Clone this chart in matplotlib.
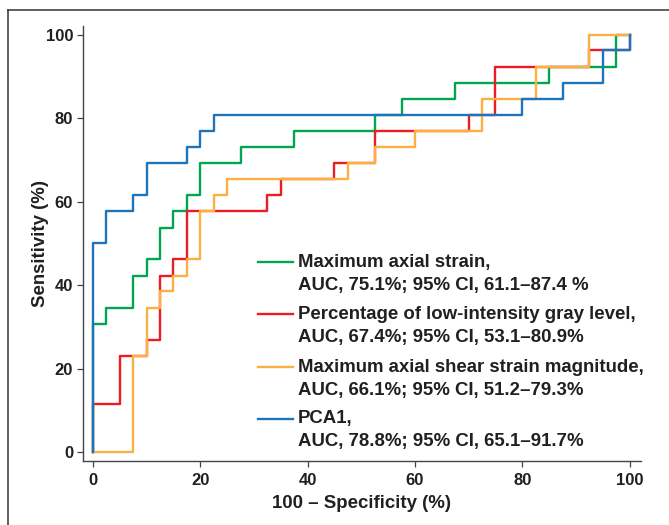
import matplotlib.pyplot as plt
from matplotlib.lines import Line2D

plt.rcParams['font.family'] = ['Liberation Sans', 'DejaVu Sans']
plt.rcParams['font.weight'] = 'bold'
plt.rcParams['axes.labelweight'] = 'bold'

# ROC vertices, 100 - specificity (%) and sensitivity (%)
strain_fpr = [0, 0, 2.5, 7.5, 10, 12.5, 15, 17.5, 20, 27.5, 37.5, 52.5, 57.5, 67.5, 85, 97.5, 100]
strain_tpr = [0, 30.8, 34.6, 42.3, 46.2, 53.8, 57.7, 61.5, 69.2, 73.1, 76.9, 80.8, 84.6, 88.5, 92.3, 100, 100]

gray_fpr = [0, 0, 5, 10, 12.5, 15, 17.5, 32.5, 35, 45, 52.5, 70, 75, 92.5, 100]
gray_tpr = [0, 11.5, 23.1, 26.9, 42.3, 46.2, 57.7, 61.5, 65.4, 69.2, 76.9, 80.8, 92.3, 96.2, 100]

shear_fpr = [0, 7.5, 10, 12.5, 15, 17.5, 20, 22.5, 25, 47.5, 52.5, 60, 72.5, 82.5, 92.5, 100]
shear_tpr = [0, 23.1, 34.6, 38.5, 42.3, 46.2, 57.7, 61.5, 65.4, 69.2, 73.1, 76.9, 84.6, 92.3, 100, 100]

pca_fpr = [0, 0, 2.5, 7.5, 10, 17.5, 20, 22.5, 80, 87.5, 95, 100]
pca_tpr = [0, 50.0, 57.7, 61.5, 69.2, 73.1, 76.9, 80.8, 84.6, 88.5, 96.2, 100]

names = ["Maximum axial strain,", "Percentage of low-intensity gray level,",
         "Maximum axial shear strain magnitude,", "PCA1,"]
auc_text = ["AUC, 75.1%; 95% CI, 61.1\u201387.4 %", "AUC, 67.4%; 95% CI, 53.1\u201380.9%",
            "AUC, 66.1%; 95% CI, 51.2\u201379.3%", "AUC, 78.8%; 95% CI, 65.1\u201391.7%"]
colors = ['#00a651', '#ed1c24', '#fbb040', '#1c75bc']
txt = '#231f20'

fig = plt.figure(figsize=(6.69, 5.25), dpi=100)
ax = fig.add_axes([0.124, 0.122, 0.834, 0.828])

curves = [(strain_fpr, strain_tpr), (gray_fpr, gray_tpr), (shear_fpr, shear_tpr), (pca_fpr, pca_tpr)]
for (fx, ty), c in zip(curves, colors):
    ax.step(fx, ty, where='post', color=c, lw=1.7)

ax.set_xlim(-1.86, 102.1)
ax.set_ylim(-2.1, 102)
ax.set_xticks([0, 20, 40, 60, 80, 100])
ax.set_yticks([0, 20, 40, 60, 80, 100])
for s in ['top', 'right']:
    ax.spines[s].set_visible(False)
for s in ['left', 'bottom']:
    ax.spines[s].set_color('#444444')
    ax.spines[s].set_linewidth(1.0)
ax.tick_params(length=4, width=0.9, color='#444444', labelsize=12, labelcolor=txt)
ax.tick_params(axis='x', pad=5)
ax.tick_params(axis='y', pad=3)
ax.set_xlabel('100 \u2013 Specificity (%)', fontsize=13.4, color=txt, labelpad=5)
ax.set_ylabel('Sensitivity (%)', fontsize=13.4, color=txt, labelpad=-2)

# legend drawn by hand so the line sits beside the first text row
leg_y = [0.4575, 0.3379, 0.2161, 0.0966]
row_gap = 0.053
for i in range(4):
    ax.plot([0.3136, 0.3772], [leg_y[i], leg_y[i]], color=colors[i], lw=1.7,
            transform=ax.transAxes, clip_on=False)
    ax.text(0.3853, leg_y[i], names[i], transform=ax.transAxes, fontsize=13.4,
            color=txt, va='center')
    ax.text(0.3853, leg_y[i] - row_gap, auc_text[i], transform=ax.transAxes, fontsize=13.4,
            color=txt, va='center')

# frame around the panel
fig.add_artist(Line2D([8 / 669, 8 / 669], [0, 1 - 10 / 525], transform=fig.transFigure,
                      color='#333333', lw=1.1))
fig.add_artist(Line2D([8 / 669, 1], [1 - 10 / 525, 1 - 10 / 525], transform=fig.transFigure,
                      color='#333333', lw=1.1))

fig.savefig('out.png', dpi=100)
